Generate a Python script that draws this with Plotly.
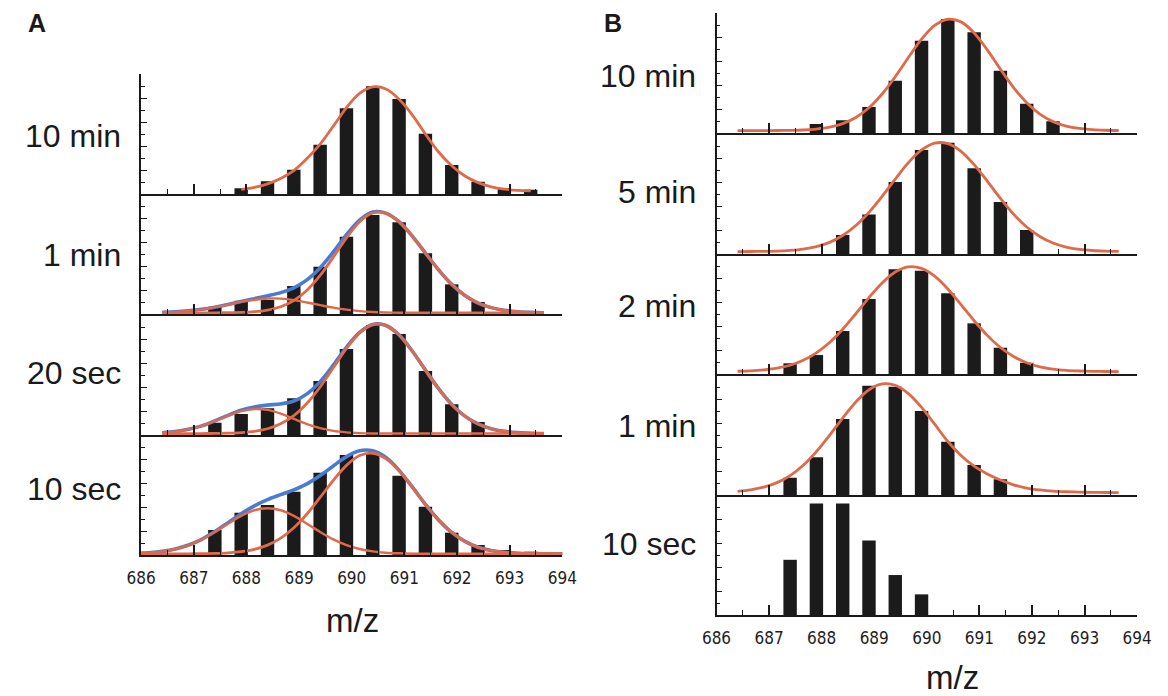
import plotly.graph_objects as go

W, H = 1168, 696

# ---------------- data ----------------
BAR_X = [687.4, 687.9, 688.4, 688.9, 689.4, 689.9, 690.4, 690.9, 691.4, 691.9, 692.4, 692.9, 693.4]

CURVE_X = [685.9, 686.15, 686.4, 686.65, 686.9, 687.15, 687.4, 687.65, 687.9, 688.15,
           688.4, 688.65, 688.9, 689.15, 689.4, 689.65, 689.9, 690.15, 690.4, 690.65,
           690.9, 691.15, 691.4, 691.65, 691.9, 692.15, 692.4, 692.65, 692.9, 693.15,
           693.4, 693.65, 693.9, 694.15]

TICK_VALS = [686, 687, 688, 689, 690, 691, 692, 693, 694]
TICK_TEXT = ["686", "687", "688", "689", "690", "691", "692", "693", "694"]

N = None

# Panel A
A_10MIN_BARS = [N, 0.47, 1.06, 2.03, 4.1, 7.14, 8.97, 7.92, 5.03, 2.42, 1.03, 0.5, 0.35]
A_10MIN_FIT = [N, N, N, N, N, N, N, N, 0.38, 0.55, 0.85, 1.3, 1.95, 2.95, 4.15, 5.65, 7.2,
               8.38, 8.93, 8.75, 7.9, 6.6, 5.0, 3.5, 2.35, 1.5, 0.95, 0.6, 0.4, 0.3, 0.27, N, N, N]

A_1MIN_BARS = [0.61, 1.11, 1.17, 2.33, 3.94, 6.44, 8.25, 7.64, 5.06, 2.47, 1.0, N, N]
A_1MIN_MAIN = [N, N, 0.10, 0.10, 0.10, 0.10, 0.10, 0.11, 0.13, 0.19, 0.33, 0.60, 1.12, 1.98,
               3.21, 4.74, 6.35, 7.69, 8.43, 8.38, 7.68, 6.49, 5.08, 3.68, 2.47, 1.54, 0.91,
               0.53, 0.30, 0.19, 0.14, 0.11, N, N]
A_1MIN_MINOR = [N, N, 0.14, 0.18, 0.26, 0.39, 0.57, 0.78, 1.01, 1.19, 1.29, 1.28, 1.16, 0.96,
                0.74, 0.53, 0.36, 0.24, 0.17, 0.13, 0.11, 0.10, 0.10, 0.10, 0.10, 0.10, 0.10,
                0.10, 0.10, 0.10, 0.10, 0.10, N, N]
A_1MIN_SUM = [N, N, 0.14, 0.18, 0.26, 0.39, 0.57, 0.79, 1.04, 1.28, 1.52, 1.78, 2.18, 2.84,
              3.85, 5.17, 6.61, 7.83, 8.50, 8.41, 7.69, 6.49, 5.08, 3.68, 2.47, 1.54, 0.91,
              0.53, 0.30, 0.19, 0.14, 0.11, N, N]

A_20SEC_BARS = [1.03, 1.75, 2.22, 3.06, 4.5, 7.17, 9.17, 8.42, 5.33, 2.56, 1.08, N, N]
A_20SEC_MAIN = [N, N, 0.12, 0.12, 0.12, 0.12, 0.13, 0.15, 0.20, 0.30, 0.52, 0.93, 1.61, 2.64,
                4.00, 5.60, 7.21, 8.51, 9.20, 9.13, 8.34, 7.00, 5.41, 3.86, 2.55, 1.57, 0.92,
                0.52, 0.30, 0.20, 0.15, 0.13, N, N]
A_20SEC_MINOR = [N, N, 0.19, 0.28, 0.47, 0.76, 1.17, 1.61, 1.99, 2.16, 2.09, 1.78, 1.34, 0.91,
                 0.57, 0.34, 0.22, 0.16, 0.13, 0.12, 0.12, 0.12, 0.12, 0.12, 0.12, 0.12, 0.12,
                 0.12, 0.12, 0.12, 0.12, 0.12, N, N]
A_20SEC_SUM = [N, N, 0.19, 0.28, 0.47, 0.76, 1.18, 1.64, 2.07, 2.34, 2.49, 2.59, 2.83, 3.43,
               4.45, 5.82, 7.31, 8.55, 9.21, 9.13, 8.34, 7.00, 5.41, 3.86, 2.55, 1.57, 0.92,
               0.52, 0.30, 0.20, 0.15, 0.13, N, N]

A_10SEC_BARS = [2.08, 3.53, 4.17, 5.28, 6.86, 8.33, 8.42, 6.61, 4.03, 1.86, 0.83, 0.42, 0.28]
A_10SEC_MAIN = [0.10, 0.10, 0.10, 0.10, 0.10, 0.11, 0.13, 0.18, 0.28, 0.47, 0.82, 1.40, 2.27,
                3.42, 4.80, 6.22, 7.47, 8.29, 8.48, 8.03, 7.01, 5.66, 4.22, 2.92, 1.88, 1.14,
                0.65, 0.38, 0.23, 0.15, 0.12, 0.11, 0.10, 0.10]
A_10SEC_MINOR = [0.14, 0.19, 0.30, 0.50, 0.83, 1.30, 1.92, 2.61, 3.26, 3.73, 3.90, 3.73, 3.26,
                 2.61, 1.92, 1.30, 0.83, 0.50, 0.30, 0.19, 0.14, 0.11, 0.10, 0.10, 0.10, 0.10,
                 0.10, 0.10, 0.10, 0.10, 0.10, 0.10, 0.10, 0.10]
A_10SEC_SUM = [0.14, 0.19, 0.30, 0.50, 0.83, 1.31, 1.95, 2.69, 3.44, 4.10, 4.62, 5.03, 5.43,
               5.93, 6.62, 7.42, 8.20, 8.69, 8.68, 8.12, 7.05, 5.67, 4.22, 2.92, 1.88, 1.14,
               0.65, 0.38, 0.23, 0.15, 0.12, 0.11, 0.10, 0.10]

# Panel B
B_10MIN_BARS = [N, 0.75, 1.06, 2.17, 4.36, 7.69, 9.5, 8.39, 5.19, 2.44, 0.97, N, N]
B_10MIN_FIT = [N, N, 0.20, 0.20, 0.20, 0.21, 0.22, 0.25, 0.33, 0.48, 0.78, 1.29, 2.10, 3.25,
               4.69, 6.29, 7.82, 8.96, 9.48, 9.26, 8.34, 6.93, 5.32, 3.79, 2.52, 1.58, 0.95,
               0.58, 0.38, 0.28, 0.23, 0.21, N, N]

B_5MIN_BARS = [N, N, 1.58, 3.3, 6.0, 8.67, 9.28, 7.14, 4.33, 2.0, N, N, N]
B_5MIN_FIT = [N, N, 0.20, 0.21, 0.22, 0.24, 0.30, 0.41, 0.62, 0.97, 1.54, 2.37, 3.47, 4.80,
              6.24, 7.61, 8.67, 9.24, 9.20, 8.56, 7.45, 6.07, 4.63, 3.32, 2.25, 1.46, 0.92,
              0.58, 0.39, 0.29, 0.24, 0.22, N, N]

B_2MIN_BARS = [0.89, 1.58, 3.58, 6.25, 8.72, 8.61, 6.72, 4.22, 2.19, 0.94, N, N, N]
B_2MIN_FIT = [N, N, 0.23, 0.26, 0.34, 0.48, 0.73, 1.14, 1.76, 2.62, 3.73, 5.02, 6.37, 7.59,
              8.50, 8.93, 8.80, 8.15, 7.08, 5.78, 4.44, 3.22, 2.21, 1.46, 0.94, 0.60, 0.41,
              0.30, 0.25, 0.22, 0.21, 0.20, N, N]

B_1MIN_BARS = [1.44, 3.14, 6.33, 9.11, 9.03, 7.0, 4.44, 2.5, 1.31, N, N, N, N]
B_1MIN_FIT = [N, N, 0.31, 0.43, 0.65, 1.03, 1.62, 2.48, 3.62, 4.97, 6.41, 7.75, 8.77, 9.26,
              9.15, 8.45, 7.30, 5.90, 4.46, 3.30, 2.40, 1.75, 1.25, 0.85, 0.58, 0.42, 0.32,
              0.27, 0.24, 0.22, 0.21, 0.20, N, N]

B_10SEC_BARS = [4.6, 9.3, 9.3, 6.2, 3.33, 1.72, N, N, N, N, N, N, N]

ROW_LABELS_A = ["10 min", "1 min", "20 sec", "10 sec"]
ROW_LABELS_B = ["10 min", "5 min", "2 min", "1 min", "10 sec"]

# ---------------- styling / layout ----------------
RED = "#e0694a"
BLUE = "#4a7bd2"
BAR_COLOR = "#1b1b1b"
AXIS_COLOR = "#1a1a1a"
TEXT_FONT = "Liberation Sans, Arial, Helvetica, sans-serif"
TICK_FONT = "Liberation Sans Narrow, DejaVu Sans Condensed, Arial Narrow, sans-serif"

A_X = (129.5, 561.7)
B_X = (720.0, 1151.7)
A_BASE = [194, 314, 435, 555]
B_BASE = [133, 254, 374, 495, 615]
PANEL_H = 120

RW, BW, MW = 2.8, 3.6, 2.4  # red main, blue sum, red minor widths

panels = []  # (xpix, baseline, bars, fits[(values, color, width)], show_ticklabels)
panels.append((A_X, A_BASE[0], A_10MIN_BARS, [(A_10MIN_FIT, RED, RW)], False))
panels.append((A_X, A_BASE[1], A_1MIN_BARS,
               [(A_1MIN_SUM, BLUE, BW), (A_1MIN_MINOR, RED, MW), (A_1MIN_MAIN, RED, RW)], False))
panels.append((A_X, A_BASE[2], A_20SEC_BARS,
               [(A_20SEC_SUM, BLUE, BW), (A_20SEC_MINOR, RED, MW), (A_20SEC_MAIN, RED, RW)], False))
panels.append((A_X, A_BASE[3], A_10SEC_BARS,
               [(A_10SEC_SUM, BLUE, BW), (A_10SEC_MINOR, RED, MW), (A_10SEC_MAIN, RED, RW)], True))
panels.append((B_X, B_BASE[0], B_10MIN_BARS, [(B_10MIN_FIT, RED, RW)], False))
panels.append((B_X, B_BASE[1], B_5MIN_BARS, [(B_5MIN_FIT, RED, RW)], False))
panels.append((B_X, B_BASE[2], B_2MIN_BARS, [(B_2MIN_FIT, RED, RW)], False))
panels.append((B_X, B_BASE[3], B_1MIN_BARS, [(B_1MIN_FIT, RED, RW)], False))
panels.append((B_X, B_BASE[4], B_10SEC_BARS, [], True))

fig = go.Figure()
layout = dict(
    width=W, height=H, autosize=False,
    margin=dict(l=0, r=0, t=0, b=0, pad=0),
    paper_bgcolor="white", plot_bgcolor="rgba(0,0,0,0)",
    showlegend=False,
    font=dict(family=TEXT_FONT, color="#1a1a1a"),
)

for i, (xpix, base, bars, fits, show_lbl) in enumerate(panels, start=1):
    xa = "x" if i == 1 else f"x{i}"
    ya = "y" if i == 1 else f"y{i}"
    fig.add_trace(go.Bar(x=BAR_X, y=bars, width=0.255, marker=dict(color=BAR_COLOR, line=dict(width=0)),
                         xaxis=xa, yaxis=ya, hoverinfo="skip"))
    for vals, col, lw in fits:
        fig.add_trace(go.Scatter(x=CURVE_X, y=vals, mode="lines", cliponaxis=False,
                                 line=dict(color=col, width=lw, shape="spline", smoothing=0.9),
                                 xaxis=xa, yaxis=ya, hoverinfo="skip"))
    top = base - PANEL_H
    xkey = "xaxis" if i == 1 else f"xaxis{i}"
    ykey = "yaxis" if i == 1 else f"yaxis{i}"
    layout[xkey] = dict(
        domain=[xpix[0] / W, xpix[1] / W], anchor=ya, range=[686, 694],
        showline=True, linecolor=AXIS_COLOR, linewidth=1.8, mirror=False,
        ticks="inside", ticklen=10, tickwidth=1.5, tickcolor=AXIS_COLOR,
        tickmode="array", tickvals=TICK_VALS, ticktext=TICK_TEXT,
        minor=dict(ticks="inside", ticklen=5, tickwidth=1.3, tickcolor=AXIS_COLOR,
                   tickmode="linear", tick0=686, dtick=0.5, showgrid=False),
        showticklabels=show_lbl, ticklabelstandoff=7,
        tickfont=dict(family=TICK_FONT, size=17, color="#1e1e1e"),
        showgrid=False, zeroline=False, fixedrange=True,
    )
    layout[ykey] = dict(
        domain=[1 - base / H, 1 - top / H], anchor=xa, range=[0, 10],
        showline=True, linecolor=AXIS_COLOR, linewidth=1.8,
        ticks="inside", ticklen=6, tickwidth=1.4, tickcolor=AXIS_COLOR,
        tickmode="linear", tick0=0, dtick=2,
        minor=dict(ticks="inside", ticklen=4, tickwidth=1.2, tickcolor=AXIS_COLOR,
                   tickmode="linear", tick0=0, dtick=1, showgrid=False),
        showticklabels=False, showgrid=False, zeroline=False, fixedrange=True,
    )

annotations = []
A_LABEL_Y = [136, 255, 373, 489]
B_LABEL_Y = [76, 192, 306, 426, 544]
for txt, py in zip(ROW_LABELS_A, A_LABEL_Y):
    annotations.append(dict(text=txt, x=111 / W, y=1 - py / H, xref="paper", yref="paper",
                            xanchor="right", yanchor="middle", showarrow=False,
                            font=dict(family=TEXT_FONT, size=32, color="#1a1a1a")))
for txt, py in zip(ROW_LABELS_B, B_LABEL_Y):
    annotations.append(dict(text=txt, x=701 / W, y=1 - py / H, xref="paper", yref="paper",
                            xanchor="right", yanchor="middle", showarrow=False,
                            font=dict(family=TEXT_FONT, size=32, color="#1a1a1a")))
annotations.append(dict(text="<b>A</b>", x=11 / W, y=1 - 23 / H, xref="paper", yref="paper",
                        xanchor="left", yanchor="middle", showarrow=False,
                        font=dict(family=TEXT_FONT, size=25, color="#1a1a1a")))
annotations.append(dict(text="<b>B</b>", x=602 / W, y=1 - 23 / H, xref="paper", yref="paper",
                        xanchor="left", yanchor="middle", showarrow=False,
                        font=dict(family=TEXT_FONT, size=25, color="#1a1a1a")))
annotations.append(dict(text="m/z", x=346 / W, y=1 - 620 / H, xref="paper", yref="paper",
                        xanchor="center", yanchor="middle", showarrow=False,
                        font=dict(family=TEXT_FONT, size=33, color="#1a1a1a")))
annotations.append(dict(text="m/z", x=962 / W, y=1 - 677 / H, xref="paper", yref="paper",
                        xanchor="center", yanchor="middle", showarrow=False,
                        font=dict(family=TEXT_FONT, size=33, color="#1a1a1a")))
layout["annotations"] = annotations

fig.update_layout(**layout)
fig.write_html("out.html")
